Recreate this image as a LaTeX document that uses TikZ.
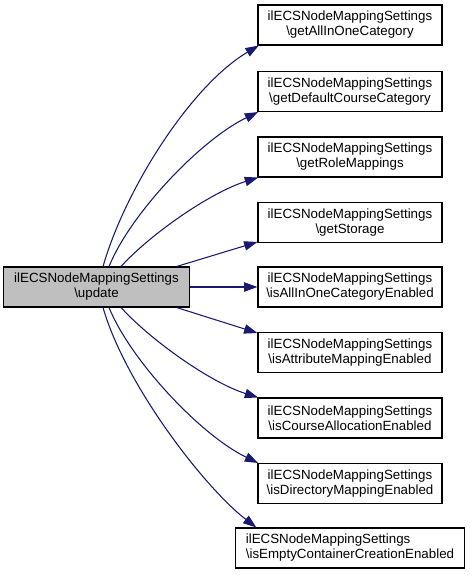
\documentclass[tikz,border=0pt]{standalone}
\usepackage{fontspec}
\setmainfont{Liberation Sans}
\usetikzlibrary{arrows.meta}

\definecolor{edgeblue}{HTML}{191970}
\definecolor{callergray}{HTML}{BFBFBF}

\begin{document}
\begin{tikzpicture}[x=0.75pt,y=-0.75pt,
		func/.style={draw, fill=white, line width=0.8pt, minimum width=138pt, minimum height=30pt, inner sep=0pt, align=center, font=\fontsize{10}{11.25}\selectfont},
		call/.style={edgeblue, line width=0.8pt, -{Triangle[length=10pt,width=7pt]}}]
			\useasboundingbox (0,0) rectangle (469,575);

			% caller
			\node[func, fill=callergray, minimum width=139pt] (upd) at (96.5,287) {ilECSNodeMappingSettings\\\textbackslash update};

			% callees
			\node[func] (allone) at (350,25) {ilECSNodeMappingSettings\\\textbackslash getAllInOneCategory};
			\node[func] (defcourse) at (350,91.5) {ilECSNodeMappingSettings\\\textbackslash getDefaultCourseCategory};
			\node[func] (rolemap) at (350,157) {ilECSNodeMappingSettings\\\textbackslash getRoleMappings};
			\node[func] (storage) at (350,222.5) {ilECSNodeMappingSettings\\\textbackslash getStorage};
			\node[func] (alloneen) at (350,287) {ilECSNodeMappingSettings\\\textbackslash isAllInOneCategoryEnabled};
			\node[func] (attrmap) at (350,352.5) {ilECSNodeMappingSettings\\\textbackslash isAttributeMappingEnabled};
			\node[func] (alloc) at (350,418) {ilECSNodeMappingSettings\\\textbackslash isCourseAllocationEnabled};
			\node[func] (dirmap) at (350,483.5) {ilECSNodeMappingSettings\\\textbackslash isDirectoryMappingEnabled};
			\node[func, align=left, inner xsep=7.5pt] (emptycont) at (350,548) {ilECSNodeMappingSettings\\\textbackslash isEmptyContainerCreationEnabled};

			% calls going up
			\draw[call] ([xshift=4.9pt]upd.north) .. controls +(22,-77) and +(-68,40) .. ([xshift=1pt]allone.south west);
			\draw[call] ([xshift=9.4pt]upd.north) .. controls +(21,-52) and +(-58,28) .. ([xshift=0.5pt]defcourse.south west);
			\draw[call] ([xshift=18.4pt]upd.north) .. controls +(29,-32) and +(-48,15) .. ([xshift=0.5pt]rolemap.south west);
			\draw[call] ([xshift=-9.75pt]upd.north east) -- ([yshift=0.8pt]storage.south west);

			% straight across
			\draw[call] (upd.east) -- (alloneen.west);

			% calls going down
			\draw[call] ([xshift=-9.75pt]upd.south east) -- ([yshift=-0.8pt]attrmap.north west);
			\draw[call] ([xshift=18.4pt]upd.south) .. controls +(29,32) and +(-48,-15) .. ([xshift=0.5pt]alloc.north west);
			\draw[call] ([xshift=9.4pt]upd.south) .. controls +(21,52) and +(-58,-28) .. ([xshift=0.5pt]dirmap.north west);
			\draw[call] ([xshift=4.9pt]upd.south) .. controls +(22,77) and +(-52,-40) .. ([xshift=15.75pt]emptycont.north west);

		\end{tikzpicture}
\end{document}
